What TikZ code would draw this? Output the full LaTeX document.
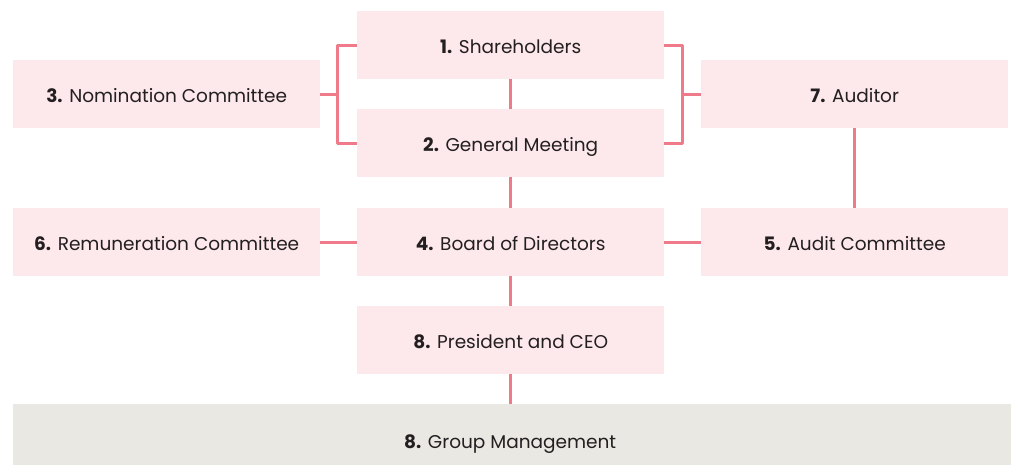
\documentclass[tikz,border=0pt]{standalone}
\usepackage{fontspec}
\setmainfont{Poppins}
\definecolor{boxpink}{HTML}{FDE8EC}
\definecolor{linepink}{HTML}{EE7A8A}
\definecolor{boxgray}{HTML}{EAE8E3}
\definecolor{txt}{HTML}{231F20}
\begin{document}
\begin{tikzpicture}[x=1pt,y=-1pt,
  box/.style={fill=boxpink, draw=none, minimum width=307pt, minimum height=68pt, inner sep=0pt, text height=18pt, text depth=2pt, anchor=north west, font=\fontsize{18.5}{22}\selectfont, text=txt},
  conn/.style={draw=linepink, line width=3pt}]
\useasboundingbox (0,0) rectangle (1011,464);
\node[box] (sh) at (357,11) {\textbf{1.} Shareholders};
\node[box] (gm) at (357,109) {\textbf{2.} General Meeting};
\node[box] (nc) at (13,60) {\textbf{3.} Nomination Committee};
\node[box] (au) at (701,60) {\textbf{7.} Auditor};
\node[box] (rc) at (13,208) {\textbf{6.} Remuneration Committee};
\node[box] (bd) at (357,208) {\textbf{4.} Board of Directors};
\node[box] (ac) at (701,208) {\textbf{5.} Audit Committee};
\node[box] (pc) at (357,306) {\textbf{8.} President and CEO};
\node[box, fill=boxgray, minimum width=1010pt, minimum height=72pt] (gr) at (13,404) {\hspace*{-16pt}\textbf{8.} Group Management};
% vertical chain
\draw[conn] (sh.south) -- (gm.north);
\draw[conn] (gm.south) -- (bd.north);
\draw[conn] (bd.south) -- (pc.north);
\draw[conn] (pc.south) -- (gr.north -| pc.south);
% side links
\draw[conn] (rc.east) -- (bd.west);
\draw[conn] (bd.east) -- (ac.west);
\draw[conn] (au.south -| ac.north) -- (ac.north);
% left bracket
\coordinate (lb) at (337,0);
\draw[conn, line join=round] (sh.west) -- (sh.west -| lb) -- (gm.west -| lb) -- (gm.west);
\draw[conn] (nc.east) -- (nc.east -| lb);
% right bracket
\coordinate (rb) at (682,0);
\draw[conn, line join=round] (sh.east) -- (sh.east -| rb) -- (gm.east -| rb) -- (gm.east);
\draw[conn] (au.west) -- (au.west -| rb);
\end{tikzpicture}
\end{document}
